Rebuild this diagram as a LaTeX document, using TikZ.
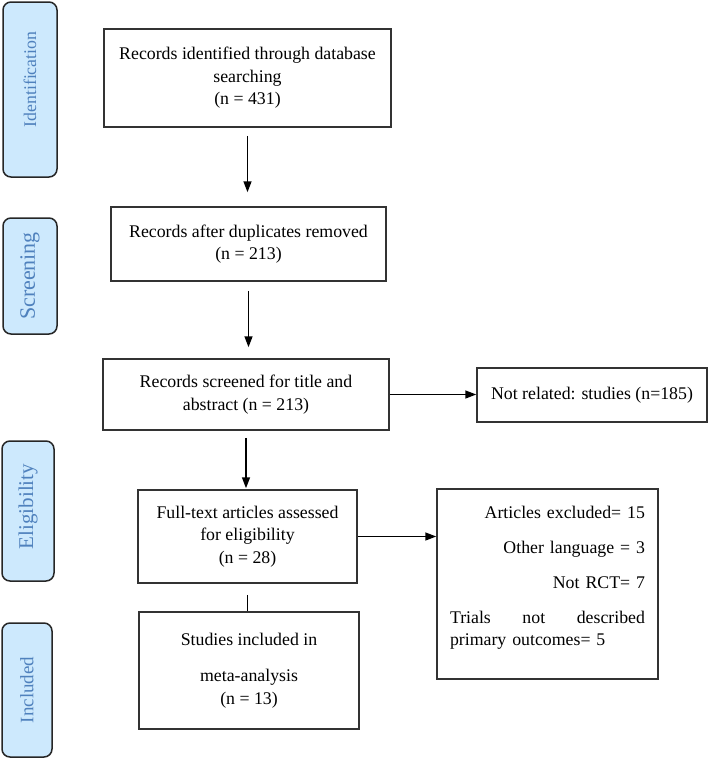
\documentclass[tikz,border=0pt]{standalone}
\usepackage{fontspec}
\setmainfont{Liberation Serif}
\usetikzlibrary{arrows.meta}
\definecolor{stagefill}{RGB}{205,233,253}
\definecolor{stagetext}{RGB}{79,129,189}
\begin{document}
\begin{tikzpicture}[x=1pt,y=-1pt,
    box/.style={draw=black!80,line width=1.5pt,align=center,inner sep=0pt,font=\fontsize{17.8}{22.5}\selectfont},
    stage/.style={draw=black!85,line width=1.5pt,fill=stagefill,rounded corners=8pt,rotate=90,text=stagetext},
    arr/.style={line width=1.5pt,-{Triangle[length=11pt,width=8pt]}}]
        \useasboundingbox (0,0) rectangle (709,758);
        %% Stages
        \node[stage,minimum width=175pt,minimum height=54pt,font=\fontsize{17.8}{20}\selectfont] (sIdent) at (30,89.5) {\hspace*{20pt}Identification};
        \node[stage,minimum width=116pt,minimum height=54pt,font=\fontsize{22}{24}\selectfont] (sScreen) at (30,276) {Screening};
        \node[stage,minimum width=140pt,minimum height=52pt,font=\fontsize{21}{24}\selectfont] (sElig) at (28,511) {\hspace*{9pt}Eligibility};
        \node[stage,minimum width=134pt,minimum height=50pt,font=\fontsize{19}{22}\selectfont] (sIncl) at (27,690) {Included};
        %% Blocks
        \node[box,minimum width=287pt,minimum height=98pt] (records) at (247.5,78) {Records identified through database\\ searching\\ (n = 431)};
        \node[box,minimum width=275pt,minimum height=74pt] (nodup) at (248.5,244) {Records after duplicates removed\\ (n = 213)};
        \node[box,minimum width=286pt,minimum height=71pt] (screened) at (246,394.5) {Records screened for title and\\ abstract (n = 213)};
        \node[box,minimum width=230pt,minimum height=54pt] (notrel) at (592,395) {Not related: studies (n=185)};
        \node[box,minimum width=219pt,minimum height=93pt] (fulltext) at (247.5,536.5) {Full-text articles assessed\\ for eligibility\\ (n = 28)};
        \node[box,minimum width=220pt,minimum height=117pt] (included) at (249,670.5) {Studies included in\\[13.5pt] meta-analysis\\ (n = 13)};
        \node[box,minimum width=221pt,minimum height=190pt] (excluded) at (547.5,584) {};
        \node[box,draw=none,align=right,text width=195pt,anchor=north] (excltext) at ([yshift=-17pt]excluded.north) {Articles excluded= 15\\[12.5pt] Other language = 3\\[12.5pt] Not RCT= 7\\[12.5pt] Trials\hfill not\hfill described\\ \makebox[195pt][l]{primary outcomes= 5}};
        %% arrows
        \draw[arr] ([yshift=-8pt]records.south) -- ([yshift=14pt]records.south |- nodup.north);
        \draw[arr] ([yshift=-9pt]nodup.south) -- ([yshift=11pt]nodup.south |- screened.north);
        \draw[arr] ([yshift=-7pt]screened.south) -- ([yshift=1pt]screened.south |- fulltext.north);
        \draw[line width=1.5pt] ([yshift=-11pt]fulltext.south) -- (fulltext.south |- included.north);
        \draw[arr] (screened.east) -- (screened.east -| notrel.west);
        \draw[arr] (fulltext.east) -- (fulltext.east -| excluded.west);
    \end{tikzpicture}
\end{document}
